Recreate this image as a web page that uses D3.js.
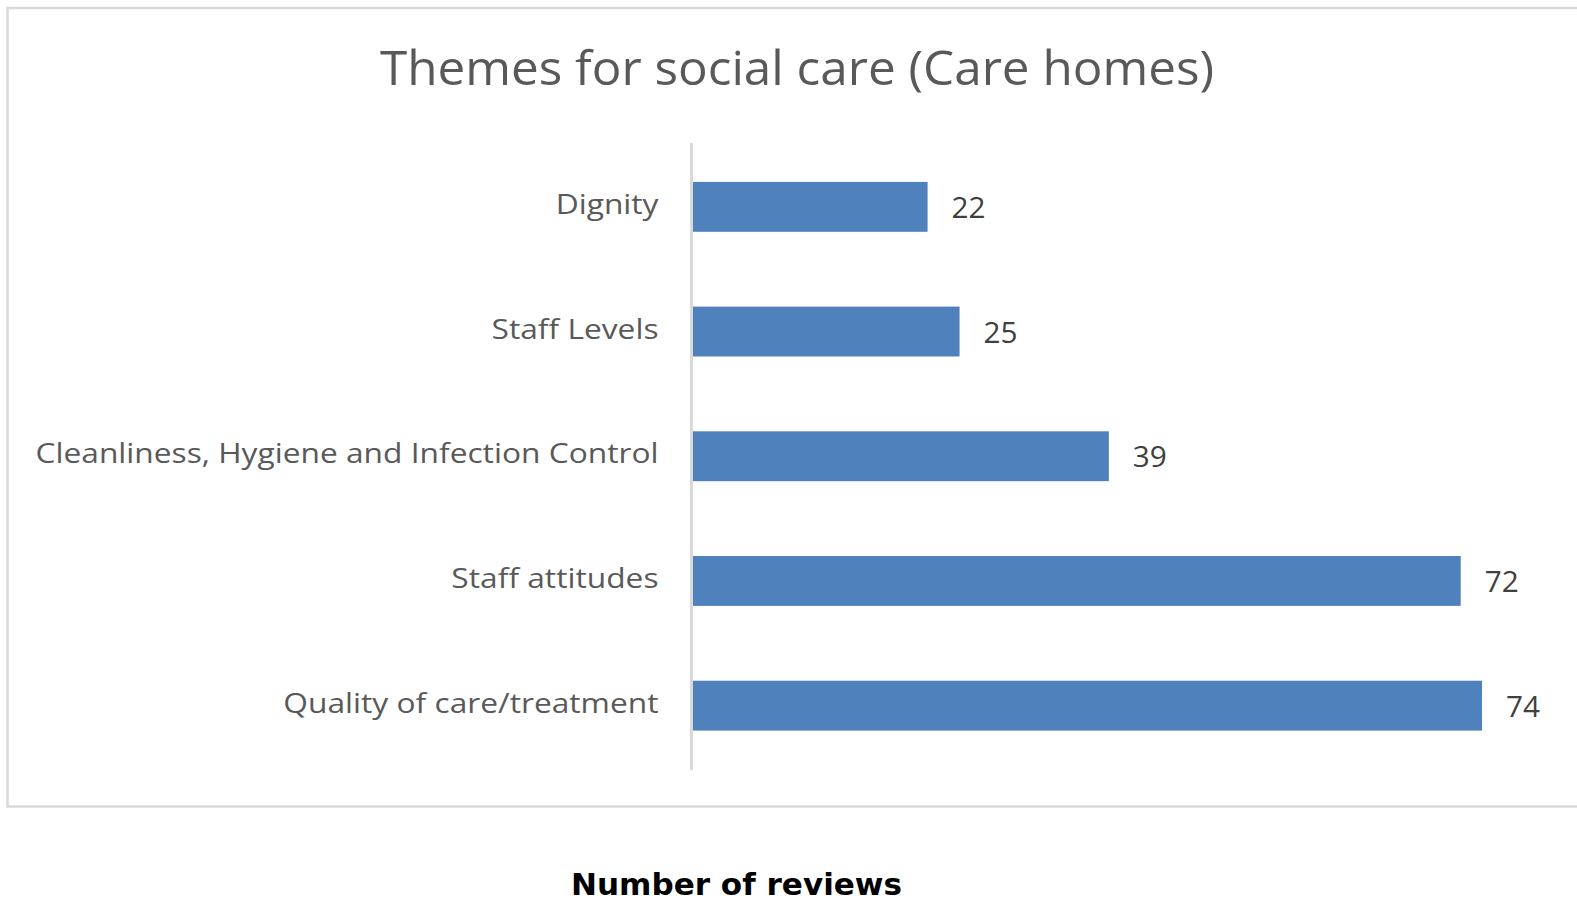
<!DOCTYPE html>
<html>
<head>
<meta charset="utf-8">
<script src="https://cdn.jsdelivr.net/npm/d3@7"></script>
<style>
  html, body { margin: 0; padding: 0; background: #ffffff; }
  svg { display: block; }
</style>
</head>
<body>
<svg id="chart" width="1577" height="902"></svg>
<script>
// Review counts by theme, care homes
const categories = [
  "Dignity",
  "Staff Levels",
  "Cleanliness, Hygiene and Infection Control",
  "Staff attitudes",
  "Quality of care/treatment"
];
const reviewCounts = [22, 25, 39, 72, 74];
const chartTitle = "Themes for social care (Care homes)";
const axisTitle = "Number of reviews";

const W = 1577, H = 902;
const svg = d3.select("#chart");

// chart area frame
svg.append("rect")
  .attr("x", 7.5).attr("y", 8)
  .attr("width", 1620).attr("height", 798.5)
  .attr("fill", "#ffffff")
  .attr("stroke", "#d9d9d9")
  .attr("stroke-width", 2.5);

const x = d3.scaleLinear().domain([0, 80]).range([693, 693 + 853]);
const y = d3.scaleBand().domain(categories).range([144.5, 768])
  .paddingInner(0.6).paddingOuter(0.3);

// title
svg.append("text")
  .attr("x", 797).attr("y", 85)
  .attr("text-anchor", "middle")
  .attr("font-family", "'Open Sans', sans-serif")
  .attr("font-size", 48)
  .attr("fill", "#595959")
  .attr("textLength", 834)
  .attr("lengthAdjust", "spacingAndGlyphs")
  .text(chartTitle);

// bars
svg.append("g").selectAll("rect")
  .data(categories.map((c, i) => ({ c, v: reviewCounts[i] })))
  .join("rect")
  .attr("x", x(0))
  .attr("y", d => y(d.c))
  .attr("width", d => x(d.v) - x(0))
  .attr("height", y.bandwidth())
  .attr("fill", "#4f81bd");

// category axis
const yAxis = svg.append("g")
  .attr("transform", `translate(${x(0) - 1.5},0)`)
  .call(d3.axisLeft(y).tickSize(0).tickSizeOuter(0).tickPadding(33));
yAxis.select(".domain")
  .attr("stroke", "#d9d9d9")
  .attr("stroke-width", 3)
  .attr("d", `M0,${y.range()[0] - 1.5}V${y.range()[1] + 2}`);
const tickText = yAxis.selectAll(".tick text")
  .attr("font-family", "'Open Sans', sans-serif")
  .attr("font-size", 28)
  .attr("fill", "#595959")
  .attr("dy", "0.25em");
// narrow the face to a Calibri-like width, same factor for every label
const natural = [];
tickText.each(function () { natural.push(this.getComputedTextLength()); });
const squeeze = 623 / d3.max(natural);
tickText.each(function (d, i) {
  d3.select(this).attr("textLength", natural[i] * squeeze)
    .attr("lengthAdjust", "spacingAndGlyphs");
});

// value labels
svg.append("g").selectAll("text")
  .data(categories.map((c, i) => ({ c, v: reviewCounts[i] })))
  .join("text")
  .attr("x", d => x(d.v) + 24)
  .attr("y", d => y(d.c) + y.bandwidth() / 2 + 11)
  .attr("font-family", "'Open Sans', sans-serif")
  .attr("font-size", 30)
  .attr("fill", "#404040")
  .attr("textLength", 34)
  .attr("lengthAdjust", "spacingAndGlyphs")
  .text(d => d.v);

// axis caption below the frame
svg.append("text")
  .attr("x", 736.5).attr("y", 895)
  .attr("text-anchor", "middle")
  .attr("font-family", "'DejaVu Sans', sans-serif")
  .attr("font-weight", "bold")
  .attr("font-size", 31)
  .attr("fill", "#000000")
  .attr("textLength", 331)
  .attr("lengthAdjust", "spacingAndGlyphs")
  .text(axisTitle);
</script>
</body>
</html>
